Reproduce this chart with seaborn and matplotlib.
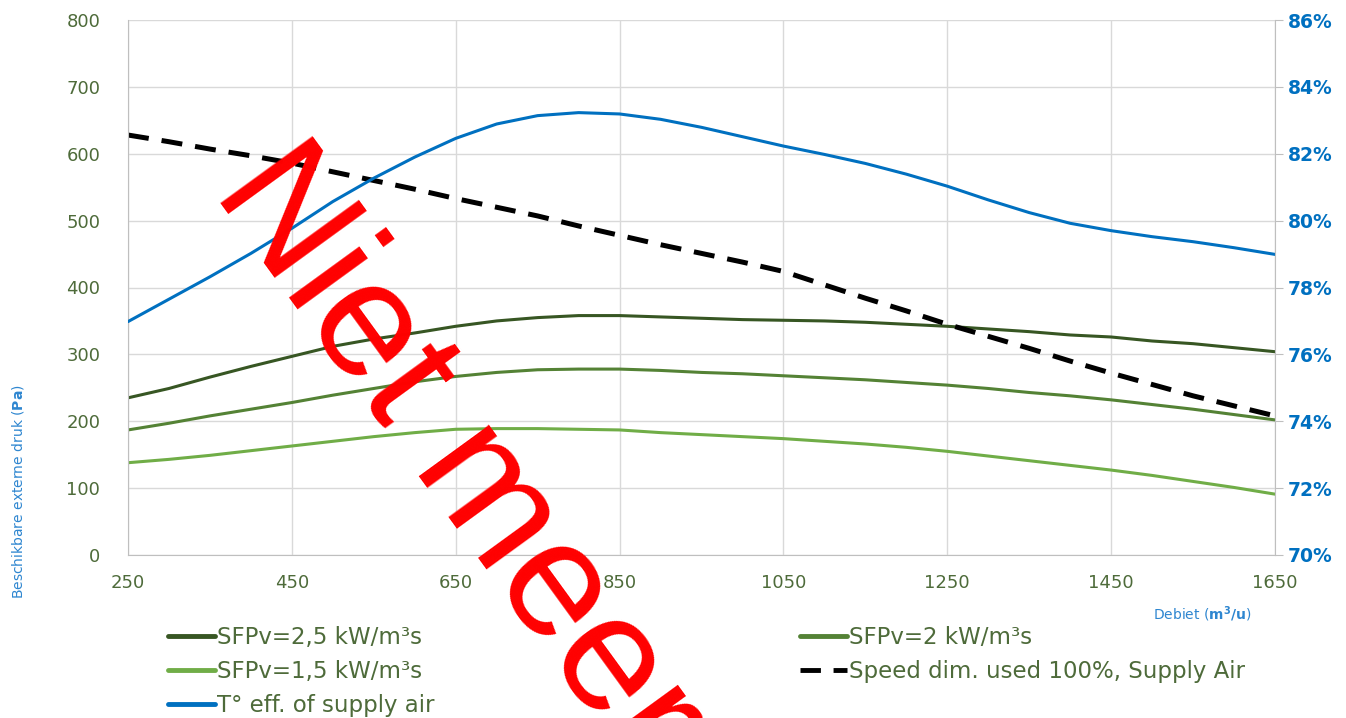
import matplotlib
matplotlib.use("Agg")
import matplotlib.pyplot as plt
import seaborn as sns

# data (every 50 m3/u)
flow = [250, 300, 350, 400, 450, 500, 550, 600, 650, 700, 750, 800, 850, 900, 950,
        1000, 1050, 1100, 1150, 1200, 1250, 1300, 1350, 1400, 1450, 1500, 1550, 1600, 1650]
sfp_25 = [235, 249, 266, 282, 297, 312, 323, 332, 342, 350, 355, 358, 358, 356, 354,
          352, 351, 350, 348, 345, 342, 338, 334, 329, 326, 320, 316, 310, 304]
sfp_20 = [187, 197, 208, 218, 228, 239, 249, 259, 267, 273, 277, 278, 278, 276, 273,
          271, 268, 265, 262, 258, 254, 249, 243, 238, 232, 225, 218, 210, 202]
sfp_15 = [138, 143, 149, 156, 163, 170, 177, 183, 188, 189, 189, 188, 187, 183, 180,
          177, 174, 170, 166, 161, 155, 148, 141, 134, 127, 119, 110, 101, 91]
speed_dim = [628, 618, 607, 597, 586, 573, 560, 547, 533, 520, 507, 492, 478, 464, 451,
             438, 424, 404, 384, 365, 345, 327, 309, 290, 272, 255, 238, 223, 208]
t_eff = [76.98, 77.65, 78.32, 79.02, 79.77, 80.57, 81.27, 81.9, 82.46, 82.89, 83.14, 83.23,
         83.19, 83.03, 82.79, 82.51, 82.23, 81.98, 81.71, 81.39, 81.03, 80.62, 80.24, 79.92,
         79.70, 79.52, 79.37, 79.19, 78.99]

x_ticks = [250, 450, 650, 850, 1050, 1250, 1450, 1650]
pa_ticks = [0, 100, 200, 300, 400, 500, 600, 700, 800]
pct_ticks = [70, 72, 74, 76, 78, 80, 82, 84, 86]

labels = ["SFPv=2,5 kW/m³s", "SFPv=2 kW/m³s", "SFPv=1,5 kW/m³s",
          "Speed dim. used 100%, Supply Air", "T° eff. of supply air"]

c_dark = "#375623"
c_mid = "#548235"
c_light = "#70AD47"
c_blue = "#0070C0"
c_text = "#4e6b3a"
c_grid = "#d9d9d9"

sns.set_style("white")
plt.rcParams["font.family"] = ["DejaVu Sans"]

fig = plt.figure(figsize=(13.46, 7.18), dpi=100)
ax = fig.add_axes([128 / 1346, 1 - 555 / 718, (1275 - 128) / 1346, (555 - 20) / 718])

sns.lineplot(x=flow, y=sfp_25, ax=ax, color=c_dark, lw=2.2, label=labels[0])
sns.lineplot(x=flow, y=sfp_20, ax=ax, color=c_mid, lw=2.2, label=labels[1])
sns.lineplot(x=flow, y=sfp_15, ax=ax, color=c_light, lw=2.2, label=labels[2])
sns.lineplot(x=flow, y=speed_dim, ax=ax, color="black", lw=3.6, label=labels[3])
ax.lines[-1].set_dashes([4.2, 2.6])

ax2 = ax.twinx()
sns.lineplot(x=flow, y=t_eff, ax=ax2, color=c_blue, lw=2.2, label=labels[4])

h1, l1 = ax.get_legend_handles_labels()
h2, l2 = ax2.get_legend_handles_labels()
ax.get_legend().remove()
ax2.get_legend().remove()
handles = dict(zip(l1 + l2, h1 + h2))

ax.set_xlim(250, 1650)
ax.set_ylim(0, 800)
ax2.set_ylim(70, 86)
ax.set_xticks(x_ticks)
ax.set_yticks(pa_ticks)
ax2.set_yticks(pct_ticks)
ax2.set_yticklabels([f"{v}%" for v in pct_ticks])

ax.grid(True, color=c_grid, lw=1)
ax2.grid(False)
for a in (ax, ax2):
    a.spines["top"].set_visible(False)
    a.set_xlabel("")
    a.set_ylabel("")
ax.spines["right"].set_visible(False)
ax2.spines["left"].set_visible(False)
ax2.spines["bottom"].set_visible(False)
ax.spines["left"].set_color("#bfbfbf")
ax.spines["bottom"].set_color("#bfbfbf")
ax2.spines["right"].set_color("#bfbfbf")

ax.tick_params(axis="y", length=0, pad=20, labelsize=13, labelcolor=c_text)
ax.tick_params(axis="x", length=0, pad=14, labelsize=13, labelcolor=c_text)
ax2.tick_params(axis="y", length=6, color="#bfbfbf", pad=3, labelsize=13.5, labelcolor=c_blue)
for lbl in ax2.get_yticklabels():
    lbl.set_fontweight("bold")

fig.text(18 / 1346, 1 - 492 / 718, r"Beschikbare externe druk ($\mathbf{Pa}$)",
         rotation=90, ha="center", va="center", fontsize=10, color="#2e86d0")
fig.text(1202 / 1346, 1 - 614 / 718, r"Debiet ($\mathbf{m^3/u}$)",
         ha="center", va="center", fontsize=10, color="#2e86d0")

leg_kw = dict(loc="upper left", frameon=False, fontsize=16.5, borderpad=0, borderaxespad=0,
              handlelength=2.05, handletextpad=0.1, labelspacing=0.47, labelcolor=c_text)
col1 = [labels[0], labels[2], labels[4]]
col2 = [labels[1], labels[3]]
fig.legend([handles[k] for k in col1], col1, bbox_to_anchor=(168 / 1346, 1 - 626 / 718), **leg_kw)
fig.legend([handles[k] for k in col2], col2, bbox_to_anchor=(800 / 1346, 1 - 626 / 718), **leg_kw)
for leg in fig.legends:
    for ln in leg.get_lines():
        ln.set_linewidth(3.5)

fig.text(212 / 1346, 1 - 192 / 718, "Niet meer leverbaar", rotation=-54, rotation_mode="anchor",
         ha="left", va="baseline", fontsize=119, color="#ff0000", family="Liberation Sans", zorder=20)

fig.savefig("out.png", dpi=100)
